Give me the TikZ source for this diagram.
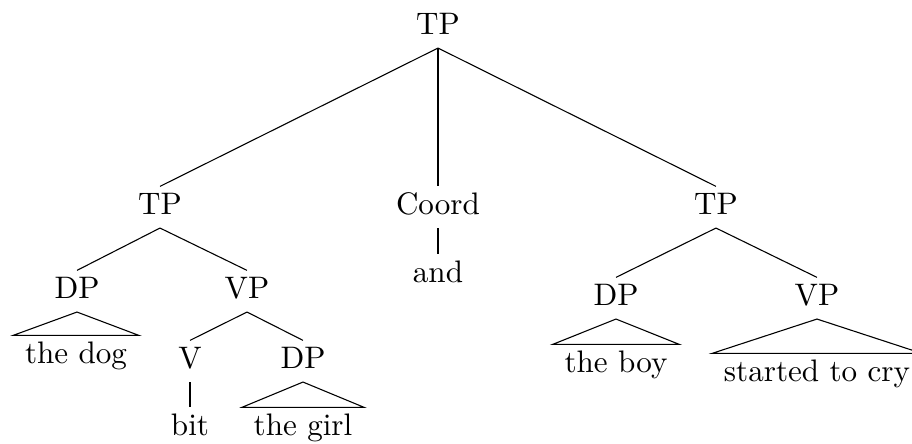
\documentclass[tikz,border=0pt]{standalone}
\usetikzlibrary{positioning}

\begin{document}
\begin{tikzpicture}[
  x=0.3215pt, y=-0.3215pt,
  every node/.style={align=center},
  cat/.style ={inner xsep=3.6pt, inner ysep=2pt,
               text height=7pt, text depth=2pt, anchor=base},
  leaf/.style={cat},
  branch/.style={draw=black, line width=0.35pt},
]
\useasboundingbox (0,0) rectangle (912,444);

% -------- root and conjuncts ----------------------------------------------
\node[cat] (tp)    at (438,35)  {TP};
\node[cat] (tp1)   at (160,215) {TP};
\node[cat] (coord) at (438,215) {Coord};
\node[cat] (tp2)   at (716,215) {TP};

% -------- first clause ----------------------------------------------------
\node[cat]  (dp1) at (77,299)  {DP};
\node[cat]  (vp1) at (247,299) {VP};
\node[leaf] (dog) at (76,364)  {the dog};
\node[cat]  (v)   at (190,369) {V};
\node[cat]  (dp2) at (303,369) {DP};
\node[leaf] (bit) at (190,436) {bit};
\node[leaf] (girl) at (303,436) {the girl};

% -------- coordinator -----------------------------------------------------
\node[leaf] (and) at (438,283) {and};

% -------- second clause ---------------------------------------------------
\node[cat]  (dp3) at (616,306) {DP};
\node[cat]  (vp2) at (817,306) {VP};
\node[leaf] (boy) at (616,373) {the boy};
\node[leaf] (cry) at (817,382) {started to cry};

% -------- branches --------------------------------------------------------
\foreach \a/\b in {tp/tp1, tp/coord, tp/tp2,
                   tp1/dp1, tp1/vp1, vp1/v, vp1/dp2, v/bit,
                   coord/and, tp2/dp3, tp2/vp2}
  \draw[branch] (\a.south) -- (\b.north);

% roofs
\foreach \a/\b in {dp1/dog, dp2/girl, dp3/boy, vp2/cry}
  \draw[branch] (\a.south) -- (\b.north west) -- (\b.north east) -- cycle;

\end{tikzpicture}
\end{document}
